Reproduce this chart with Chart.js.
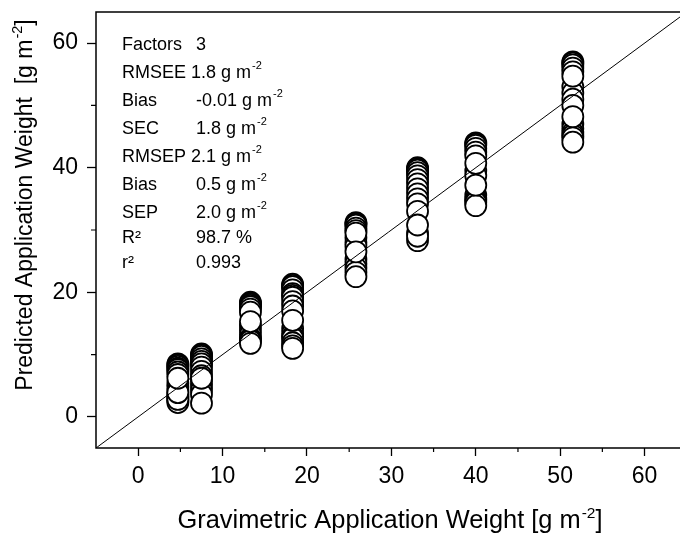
<!DOCTYPE html>
<html>
<head>
<meta charset="utf-8">
<script src="https://cdn.jsdelivr.net/npm/chart.js@4.4.1/dist/chart.umd.min.js"></script>
<style>
    html, body { margin: 0; padding: 0; background: #fff; overflow: hidden; }
    #wrap { width: 680px; height: 535px; }
</style>
</head>
<body>
<div id="wrap"><canvas id="chart" width="680" height="535"></canvas></div>
<script>
// Valores: peso gravimétrico (x) e peso previsto (y) por grupo
const gravimetric = [4.7, 7.5, 13.3, 18.3, 25.8, 33.1, 40.0, 51.5];
const pred1 = [8.5, 8.3, 8.1, 7.8, 7.6, 7.2, 6.8, 5.4, 4.8, 4.2, 3.6, 3.3, 3.0, 2.6, 2.3, 2.8, 3.9, 6.2];
const pred2 = [10.1, 9.9, 9.7, 9.3, 8.9, 8.5, 8.0, 7.3, 6.6, 5.7, 5.0, 4.3, 3.6, 2.2, 6.2];
const pred3 = [18.4, 18.2, 18.1, 17.9, 17.7, 17.3, 16.8, 14.6, 13.9, 13.2, 12.6, 12.4, 12.2, 11.8, 15.3];
const pred4 = [21.3, 21.1, 20.9, 20.4, 19.8, 19.5, 19.2, 18.5, 17.8, 17.0, 14.2, 13.4, 12.9, 12.6, 11.9, 11.4, 11.0, 15.5];
const pred5 = [31.2, 31.0, 30.8, 30.3, 29.9, 28.8, 28.0, 27.4, 25.3, 24.6, 23.9, 23.2, 29.5, 26.5, 22.5];
const pred6 = [40.0, 39.8, 39.6, 39.2, 38.7, 38.1, 37.4, 36.6, 35.8, 35.0, 34.2, 29.5, 28.3, 29.0, 33.0, 30.8];
const pred7 = [44.0, 43.8, 43.6, 43.1, 42.5, 41.9, 39.5, 38.7, 35.6, 35.0, 34.7, 34.4, 33.9, 40.7, 37.2];
const pred8 = [57.0, 56.8, 56.5, 56.0, 55.4, 53.0, 52.0, 51.0, 50.0, 47.0, 46.3, 45.6, 45.2, 44.8, 44.1, 54.7, 48.2];
const predicted = [pred1, pred2, pred3, pred4, pred5, pred6, pred7, pred8];

// Linha 1:1 e eixos
const axisMin = -5;
const xAxisMax = 64.2;
const yAxisMax = 65;
const xTicks = [0, 10, 20, 30, 40, 50, 60];
const xMinor = [5, 15, 25, 35, 45, 55];
const yTicks = [0, 20, 40, 60];
const yMinor = [10, 30, 50];

// Estatísticas do modelo
const statLabels = ['Factors', 'RMSEE', 'Bias', 'SEC', 'RMSEP', 'Bias', 'SEP', 'R²', 'r²'];
const statValues = ['3', '1.8 g m', '-0.01 g m', '1.8 g m', '2.1 g m', '0.5 g m', '2.0 g m', '98.7 %', '0.993'];
const statSup = ['', '-2', '-2', '-2', '-2', '-2', '-2', '', ''];

const FONT = '"Liberation Sans", Arial, sans-serif';

// Monta os pontos a partir dos arrays
const points = [];
gravimetric.forEach((gx, i) => {
    predicted[i].forEach(py => points.push({ x: gx, y: py }));
});

// Texto com expoente (ex.: g m^-2)
function textWithSup(ctx, main, sup, tail, size, supSize, raise) {
    ctx.font = size + 'px ' + FONT;
    const w1 = ctx.measureText(main).width;
    const w3 = ctx.measureText(tail).width;
    ctx.font = supSize + 'px ' + FONT;
    const w2 = ctx.measureText(sup).width;
    return {
        width: w1 + w2 + w3 + 1,
        draw(x, y) {
            ctx.font = size + 'px ' + FONT;
            ctx.fillText(main, x, y);
            ctx.font = supSize + 'px ' + FONT;
            ctx.fillText(sup, x + w1 + 1, y - raise);
            ctx.font = size + 'px ' + FONT;
            ctx.fillText(tail, x + w1 + w2 + 1, y);
        }
    };
}

const decoPlugin = {
    id: 'deco',
    afterDraw(chart) {
        const ctx = chart.ctx;
        const a = chart.chartArea;
        const xs = chart.scales.x;
        const ys = chart.scales.y;
        ctx.save();

        // moldura (sem lado direito, fica fora da janela)
        ctx.strokeStyle = '#000';
        ctx.lineWidth = 1.5;
        ctx.beginPath();
        ctx.moveTo(a.right + 2, a.top);
        ctx.lineTo(a.left, a.top);
        ctx.lineTo(a.left, a.bottom);
        ctx.lineTo(a.right + 2, a.bottom);
        ctx.stroke();

        // marcas menores
        ctx.lineWidth = 1.2;
        ctx.beginPath();
        xMinor.forEach(v => {
            const px = xs.getPixelForValue(v);
            ctx.moveTo(px, a.bottom);
            ctx.lineTo(px, a.bottom + 4);
        });
        yMinor.forEach(v => {
            const py = ys.getPixelForValue(v);
            ctx.moveTo(a.left, py);
            ctx.lineTo(a.left - 5, py);
        });
        ctx.stroke();

        ctx.fillStyle = '#000';
        ctx.textBaseline = 'alphabetic';
        ctx.textAlign = 'left';

        // títulos dos eixos
        const xt = textWithSup(ctx, 'Gravimetric Application Weight [g m', '-2', ']', 25.4, 15.5, 10);
        xt.draw(390 - xt.width / 2, 528);

        const yt = textWithSup(ctx, 'Predicted Application Weight  [g m', '-2', ']', 23, 14.5, 10);
        ctx.save();
        ctx.translate(32, 205);
        ctx.rotate(-Math.PI / 2);
        yt.draw(-yt.width / 2, 0);
        ctx.restore();

        // caixa de estatísticas
        statLabels.forEach((lab, i) => {
            const y = i < 7 ? 50 + i * 28 : 218 + (i - 6) * 25;
            ctx.font = '18px ' + FONT;
            ctx.fillText(lab, 122, y);
            const natural = 122 + ctx.measureText(lab + ' ').width;
            const vx = natural > 189 ? natural : 196;
            const t = textWithSup(ctx, statValues[i], statSup[i], '', 18, 11, 9.5);
            t.draw(vx, y);
        });

        ctx.restore();
    }
};

const ctx = document.getElementById('chart').getContext('2d');
new Chart(ctx, {
    type: 'scatter',
    data: {
        datasets: [
            {
                type: 'line',
                data: [{ x: axisMin, y: axisMin }, { x: yAxisMax, y: yAxisMax }],
                borderColor: '#000',
                borderWidth: 1,
                pointRadius: 0,
                fill: false,
                order: 0
            },
            {
                data: points,
                pointRadius: 10.5,
                pointBorderWidth: 1.8,
                pointBackgroundColor: '#fff',
                pointBorderColor: '#000',
                order: 1
            }
        ]
    },
    plugins: [decoPlugin],
    options: {
        responsive: false,
        animation: false,
        layout: { autoPadding: false, padding: { top: 12, right: 0, left: 0, bottom: 0 } },
        plugins: { legend: { display: false }, tooltip: { enabled: false } },
        scales: {
            x: {
                type: 'linear',
                min: axisMin,
                max: xAxisMax,
                afterBuildTicks: s => { s.ticks = xTicks.map(v => ({ value: v })); },
                afterFit: s => { s.height = 87; s.paddingLeft = 0; s.paddingRight = 0; },
                ticks: { color: '#000', font: { family: FONT, size: 23 }, padding: 7, maxRotation: 0 },
                grid: { drawOnChartArea: false, drawTicks: true, tickLength: 8, tickWidth: 1.3, color: '#000' },
                border: { display: false }
            },
            y: {
                type: 'linear',
                min: axisMin,
                max: yAxisMax,
                afterBuildTicks: s => { s.ticks = yTicks.map(v => ({ value: v })); },
                afterFit: s => { s.width = 96; s.paddingTop = 0; s.paddingBottom = 0; },
                ticks: { color: '#000', font: { family: FONT, size: 23 }, padding: 9 },
                grid: { drawOnChartArea: false, drawTicks: true, tickLength: 9, tickWidth: 1.3, color: '#000' },
                border: { display: false }
            }
        }
    }
});
</script>
</body>
</html>
